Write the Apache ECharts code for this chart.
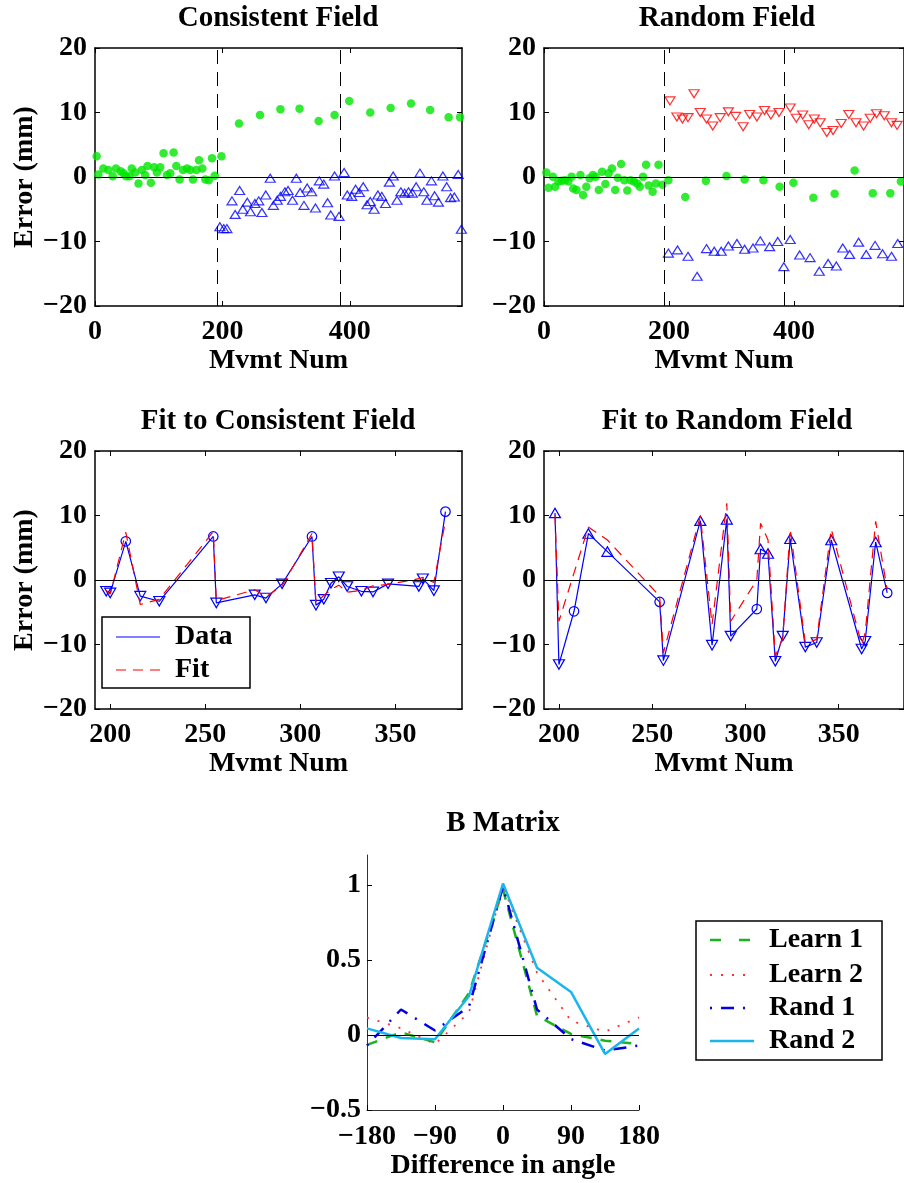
<!DOCTYPE html>
<html><head><meta charset="utf-8">
<script src="https://cdn.jsdelivr.net/npm/echarts@6/dist/echarts.min.js"></script>
<style>html,body{margin:0;padding:0;background:#fff}#c{width:904px;height:1183px}</style>
</head><body><div id="c"></div>
<script>
// ---------- DATA ----------
// Panel 1: Consistent Field
const consLearnX = [2.6,5.2,13.1,21,27.8,33,40.4,44.6,48.8,54,57.7,63,68.2,73.5,78.7,82.4,87.7,92.9,97.1,102.4,107.6,112.9,118.1,123.4,127.6,132.8,138.1,144.4,149.6,153.8,159.1,163.3,168.5,173.2,178.5,183.7,187.9,198.4];
const consLearnY = [3.2,0.4,1.3,1.1,0.1,1.3,0.9,0.6,0.1,0.1,1.3,0.7,-1.0,1.1,0.3,1.7,-0.9,1.5,0.7,1.5,3.7,0.3,0.6,3.8,1.7,-0.4,1.1,1.3,1.1,-0.4,1.1,2.6,1.3,-0.4,-0.5,2.9,0.2,3.2];
const consCatchX = [226,259,291,321,351,376,399,432,464,496,526,555,573];
const consCatchY = [8.3,9.6,10.5,10.6,8.7,9.6,11.8,10.0,10.7,11.4,10.4,9.25,9.25];
const consFieldX = [196,202,207,215,220,227,232,239,244,251,257,262,268,275,280,286,291,298,303,310,316,322,328,333,340,346,352,359,365,370,376,383,391,396,403,409,415,421,427,432,438,444,450,456,462,468,474,480,486,492,498,504,510,516,521,528,533,539,546,552,558,564,570,575];
const consFieldY = [-7.7,-8,-8,-3.7,-5.8,-2.1,-5,-3.9,-5.4,-4.1,-3.7,-5.5,-2.8,-0.2,-4.4,-3.6,-3,-2.3,-2.1,-3.6,-0.2,-2.4,-4.4,-1.7,-2.3,-4.8,-0.6,-1.1,-4,-5.9,0.15,-6.1,0.7,-2.8,-3,-1.9,-2.4,-1.5,-4.3,-3.8,-5,-2.8,-3,-4.1,-0.8,0.15,-3.6,-2.3,-2.5,-2.3,-2.5,-1.5,0.6,-2.3,-3.6,-0.6,-2.9,-3.9,0.15,-1.5,-3.2,-3.1,0.4,-8.1];
// Panel 2: Random Field
const randLearnX = [3.7,7.3,14.2,17.8,23.1,28.3,33.6,38.8,44.1,46.7,52,58.3,62.5,67.7,73,78.2,82.4,87.7,92.9,98.2,103.4,108.7,113.9,118.1,123.4,128.6,133.3,138.6,143.8,149.1,153.3,158.5,163.3,167.5,173.8,179,183.2,189.5,199];
const randLearnY = [0.7,-1.65,0.05,-1.5,-0.7,-0.6,-0.5,-0.7,0.05,-1.8,-2.0,0.3,-2.8,-1.5,-0.2,0.3,0.05,-2.0,0.8,-1.1,0.6,1.3,-2.0,-0.1,2.0,-0.5,-2.1,-0.5,-0.7,-1.0,-1.5,0.05,1.9,-1.3,-2.3,-1.0,1.9,-1.2,-0.5];
const randCatchX = [226,259,292,321,351,377,399,431,465,497,526,554,571];
const randCatchY = [-3.1,-0.6,0.15,-0.4,-0.5,-1.5,-0.9,-3.2,-2.6,1.0,-2.5,-2.5,-0.7];
const randPosX = [201.6,212.6,221.5,230.4,240,250,260,270,282,295,306.6,318.6,329,340.6,352.8,363,376,394,403.7,414,423.6,432.5,442,452.5,462.5,475.6,487.7,499.2,511.3,522,532,544.4,556,565];
const randPosY = [11.8,9.3,9,9.2,12.9,10,9,7.9,9.2,10.1,9.4,7.8,9.7,9.3,10.3,9.6,10,10.7,9.1,9.6,8.1,9,8.4,6.9,7.2,8.3,9.7,8.4,7.9,9.1,9.8,9.5,8.4,8];
const randNegX = [199,213.6,230.4,245,260,272.4,283.5,295,308.7,321,334.4,346,361,374,383.7,394,409,425.7,440.4,454.6,467.7,478,489,503.4,515.5,529.7,541.7,556,566];
const randNegY = [-11.8,-11.3,-12.3,-15.4,-11.1,-11.5,-11.5,-10.7,-10.3,-11.2,-11,-9.9,-10.8,-10,-13.9,-9.7,-12.1,-12.5,-14.6,-13.4,-13.8,-11,-12,-10.1,-12,-10.6,-11.9,-12.3,-10.3];
const phaseBounds = [192, 385];
// Panel 3: Fit to Consistent Field
const fitConsX = [197.9,200,208.2,215.8,225.8,254.2,255.8,276,281.9,290.4,306.1,308.2,312.3,316.1,320.2,324.6,332.1,338.2,346.1,362.3,364.4,370.2,376.3];
const fitConsData = [-1.75,-2,6,-2.5,-3.3,6.75,-3.55,-2.3,-2.8,-0.6,6.75,-3.9,-3,-0.5,0.5,-1,-1.75,-1.85,-0.6,-1,0.2,-1.65,10.6];
const fitConsFit = [-1.6,-2.2,7.4,-3.8,-3.0,7.5,-3.2,-1.5,-2.6,-0.9,7.2,-3.5,-2.4,-1.5,-0.8,-1.9,-1.6,-0.9,-0.7,0.2,0.4,-0.4,9.2];
const fitConsMarks = ['v','v','o','v','v','o','v','v','v','v','o','v','v','v','v','v','v','v','v','v','v','v','o'];
// Panel 4: Fit to Random Field
const fitRandX = [197.9,200,208.1,215.8,226,254,256,275.8,282.1,290,292.1,306.1,308.1,312.1,316,320,324,332.1,338.2,346,362.3,364.2,369.8,376];
const fitRandData = [10.4,-13.1,-4.85,7.2,4.4,-3.4,-12.5,9.2,-10.1,9.4,-8.7,-4.5,4.8,4.1,-12.6,-8.7,6.4,-10.4,-9.7,6.2,-10.7,-9.5,5.9,-2];
const fitRandFit = [10,-6.4,1.1,8.2,6.2,-2.5,-11.3,9.9,-6.9,11.9,-6.4,0,8.8,6.2,-11.8,-9,7.9,-9.8,-9.2,7.9,-10,-8.2,9.1,-1.5];
const fitRandMarks = ['^','v','o','^','^','o','v','^','v','^','v','o','^','^','v','v','^','v','v','^','v','v','^','o'];
// Panel 5: B Matrix
const angles = [-180,-135,-90,-45,0,45,90,135,180];
const learn1 = [-0.066,0.018,-0.049,0.28,0.97,0.128,0.007,-0.038,-0.06];
const learn2 = [0.117,0.045,-0.06,0.15,0.99,0.415,0.095,0.022,0.117];
const rand1 = [-0.07,0.17,0.03,0.19,0.99,0.17,-0.027,-0.104,-0.07];
const rand2 = [0.044,-0.02,-0.029,0.26,1.01,0.448,0.287,-0.126,0.044];
const titles = ['Consistent Field','Random Field','Fit to Consistent Field','Fit to Random Field','B Matrix'];
const mvmtTicks = [0,200,400];
const fitTicks = [200,250,300,350];
const errTicks = [-20,-10,0,10,20];
const angTicks = [-180,-90,0,90,180];
const bTicks = [-0.5,0,0.5,1];

// ---------- STYLE / LAYOUT ----------
const FONT = '"Liberation Serif","Times New Roman",serif';
const FS = 28;
const fmt = v => String(v).replace('-', '\u2212');
const pts = (xs, ys) => xs.map((x, i) => [x, ys[i]]);
const markerItems = (xs, ys, marks) => xs.map((x, i) => {
  const m = marks[i];
  if (m === 'o') return {value: [x, ys[i]], symbol: 'circle', symbolSize: 9.5};
  return {value: [x, ys[i]], symbol: 'triangle', symbolSize: [11, 9.5], symbolRotate: m === 'v' ? 180 : 0};
});
const grids = [
  {left: 95, top: 48, width: 367, height: 258},
  {left: 544, top: 48, width: 367, height: 258},
  {left: 95, top: 451, width: 367, height: 258},
  {left: 544, top: 451, width: 367, height: 258},
  {left: 367, top: 855, width: 272, height: 255}
];
const txt = {fontFamily: FONT, fontWeight: 'bold', fontSize: FS, color: '#000'};

function xAx(gi, min, max, ticks, name, pos, lw) {
  const main = pos === 'bottom';
  return {
    type: 'value', gridIndex: gi, min, max, position: pos,
    axisLine: {show: true, onZero: false, lineStyle: {color: '#000', width: lw}},
    axisTick: {show: true, inside: true, length: 5, customValues: ticks, lineStyle: {color: '#000', width: 1}},
    axisLabel: {show: main, customValues: ticks, formatter: fmt, margin: 12, ...txt},
    splitLine: {show: false},
    name: main ? name : '', nameLocation: 'middle', nameGap: 39, nameTextStyle: txt
  };
}
function yAx(gi, min, max, ticks, name, pos, lw, showLab) {
  const main = pos === 'left';
  return {
    type: 'value', gridIndex: gi, min, max, position: pos,
    axisLine: {show: true, onZero: false, lineStyle: {color: '#000', width: lw}},
    axisTick: {show: true, inside: true, length: 5, customValues: ticks, lineStyle: {color: '#000', width: 1}},
    axisLabel: {show: main && showLab, customValues: ticks, formatter: fmt, margin: 8, ...txt},
    splitLine: {show: false},
    name: main ? name : '', nameLocation: 'middle', nameGap: 56, nameTextStyle: txt
  };
}

const xAxes = [], yAxes = [];
for (let g = 0; g < 4; g++) {
  const top = g < 2;
  const mn = top ? 0 : 192, mx = top ? 576 : 385, tk = top ? mvmtTicks : fitTicks;
  xAxes.push(xAx(g, mn, mx, tk, 'Mvmt Num', 'bottom', 1.5));
  yAxes.push(yAx(g, -20, 20, errTicks, g % 2 === 0 ? 'Error (mm)' : '', 'left', 1.5, true));
}
for (let g = 0; g < 4; g++) {
  const top = g < 2;
  const mn = top ? 0 : 192, mx = top ? 576 : 385, tk = top ? mvmtTicks : fitTicks;
  xAxes.push(xAx(g, mn, mx, tk, '', 'top', 1.5));
  yAxes.push(yAx(g, -20, 20, errTicks, '', 'right', 1.5, false));
}
const bx = xAx(4, -180, 180, angTicks, 'Difference in angle', 'bottom', 1);
bx.nameGap = 42; bx.axisLabel.margin = 13; bx.axisLine.lineStyle.color = '#333';
xAxes.push(bx);
const by = yAx(4, -0.5, 1.2, bTicks, '', 'left', 1, true);
by.axisLabel.margin = 6; by.axisLine.lineStyle.color = '#333';
yAxes.push(by);

const zeroLine = {yAxis: 0, lineStyle: {type: 'solid', color: '#000', width: 1}};
const phaseLines = phaseBounds.map(v => ({xAxis: v, lineStyle: {type: [14, 8], color: '#000', width: 1}}));
const ml = (arr) => ({silent: true, symbol: ['none', 'none'], label: {show: false}, animation: false, data: arr});

const GREEN = '#00e600', BLUE = '#0000ff', RED = '#ff0000';
const hollow = c => ({color: 'rgba(255,255,255,0)', borderColor: c, borderWidth: 1.2});

const series = [
  {type: 'scatter', xAxisIndex: 0, yAxisIndex: 0, data: pts(consFieldX, consFieldY), symbol: 'triangle', symbolSize: [10, 8], itemStyle: hollow(BLUE), markLine: ml([zeroLine, ...phaseLines]), z: 3},
  {type: 'scatter', xAxisIndex: 0, yAxisIndex: 0, data: pts(consLearnX, consLearnY), symbol: 'circle', symbolSize: 8.5, itemStyle: {color: GREEN}, z: 4},
  {type: 'scatter', xAxisIndex: 0, yAxisIndex: 0, data: pts(consCatchX, consCatchY), symbol: 'circle', symbolSize: 8.5, itemStyle: {color: GREEN}, z: 4},
  {type: 'scatter', xAxisIndex: 1, yAxisIndex: 1, data: pts(randPosX, randPosY), symbol: 'triangle', symbolRotate: 180, symbolSize: [10, 8], itemStyle: hollow(RED), markLine: ml([zeroLine, ...phaseLines]), z: 3},
  {type: 'scatter', xAxisIndex: 1, yAxisIndex: 1, data: pts(randNegX, randNegY), symbol: 'triangle', symbolSize: [10, 8], itemStyle: hollow(BLUE), z: 3},
  {type: 'scatter', xAxisIndex: 1, yAxisIndex: 1, data: pts(randLearnX, randLearnY), symbol: 'circle', symbolSize: 8.5, itemStyle: {color: GREEN}, z: 4},
  {type: 'scatter', xAxisIndex: 1, yAxisIndex: 1, data: pts(randCatchX, randCatchY), symbol: 'circle', symbolSize: 8.5, itemStyle: {color: GREEN}, z: 4},
  {type: 'line', name: 'Data', xAxisIndex: 2, yAxisIndex: 2, data: markerItems(fitConsX, fitConsData, fitConsMarks), showSymbol: true, lineStyle: {color: BLUE, width: 1.2}, itemStyle: hollow(BLUE), markLine: ml([zeroLine]), z: 3},
  {type: 'line', name: 'Fit', xAxisIndex: 2, yAxisIndex: 2, data: pts(fitConsX, fitConsFit), showSymbol: false, symbol: 'none', lineStyle: {color: RED, width: 1.2, type: [10, 7]}, z: 4},
  {type: 'line', name: 'Data', xAxisIndex: 3, yAxisIndex: 3, data: markerItems(fitRandX, fitRandData, fitRandMarks), showSymbol: true, lineStyle: {color: BLUE, width: 1.2}, itemStyle: hollow(BLUE), markLine: ml([zeroLine]), z: 3},
  {type: 'line', name: 'Fit', xAxisIndex: 3, yAxisIndex: 3, data: pts(fitRandX, fitRandFit), showSymbol: false, symbol: 'none', lineStyle: {color: RED, width: 1.2, type: [10, 7]}, z: 4},
  {type: 'line', name: 'Learn 1', xAxisIndex: 8, yAxisIndex: 8, data: pts(angles, learn1), symbol: 'none', lineStyle: {color: '#1db31d', width: 2.5, type: [11, 9]}, markLine: ml([zeroLine]), z: 3},
  {type: 'line', name: 'Learn 2', xAxisIndex: 8, yAxisIndex: 8, data: pts(angles, learn2), symbol: 'none', lineStyle: {color: '#ff3030', width: 1.8, type: [2, 9]}, z: 3},
  {type: 'line', name: 'Rand 1', xAxisIndex: 8, yAxisIndex: 8, data: pts(angles, rand1), symbol: 'none', lineStyle: {color: '#0000e0', width: 2.5, type: [2, 9, 13, 9]}, z: 3},
  {type: 'line', name: 'Rand 2', xAxisIndex: 8, yAxisIndex: 8, data: pts(angles, rand2), symbol: 'none', lineStyle: {color: '#19b6ee', width: 2.5}, z: 3}
];

const titlePos = [[278, 19], [727, 19], [278, 422], [727, 422], [503, 824]];
const graphics = titles.map((t, i) => ({type: 'text', x: titlePos[i][0], y: titlePos[i][1], style: {text: t, fill: '#000', font: `bold 29px ${FONT}`, align: 'center', verticalAlign: 'middle'}, z: 10}));

function legendBox(x, y, w, h, rows, rowY, lineX0, lineX1, textX) {
  const g = [{type: 'rect', shape: {x, y, width: w, height: h}, style: {fill: '#fff', stroke: '#000', lineWidth: 1.5}, z: 20}];
  rows.forEach((r, i) => {
    g.push({type: 'line', shape: {x1: lineX0, y1: rowY[i], x2: lineX1, y2: rowY[i]}, style: {stroke: r.color, lineWidth: r.width, lineDash: r.dash || null}, z: 21});
    g.push({type: 'text', x: textX, y: rowY[i], style: {text: r.name, fill: '#000', font: `bold ${FS}px ${FONT}`, align: 'left', verticalAlign: 'middle'}, z: 21});
  });
  return g;
}
graphics.push(...legendBox(102, 617, 148, 71, [
  {name: 'Data', color: BLUE, width: 1.2},
  {name: 'Fit', color: RED, width: 1.2, dash: [10, 7]}
], [637, 670], 116, 160, 175));
graphics.push(...legendBox(696, 921, 186, 139, [
  {name: 'Learn 1', color: '#1db31d', width: 2.5, dash: [11, 18]},
  {name: 'Learn 2', color: '#ff3030', width: 1.8, dash: [2, 9]},
  {name: 'Rand 1', color: '#0000e0', width: 2.5, dash: [2, 9, 13, 9]},
  {name: 'Rand 2', color: '#19b6ee', width: 2.5}
], [940, 975, 1008, 1041], 710, 754, 769));

const chart = echarts.init(document.getElementById('c'), null, {renderer: 'canvas'});
chart.setOption({
  animation: false,
  backgroundColor: '#fff',
  grid: grids,
  xAxis: xAxes,
  yAxis: yAxes,
  series,
  graphic: graphics
});
</script></body></html>
